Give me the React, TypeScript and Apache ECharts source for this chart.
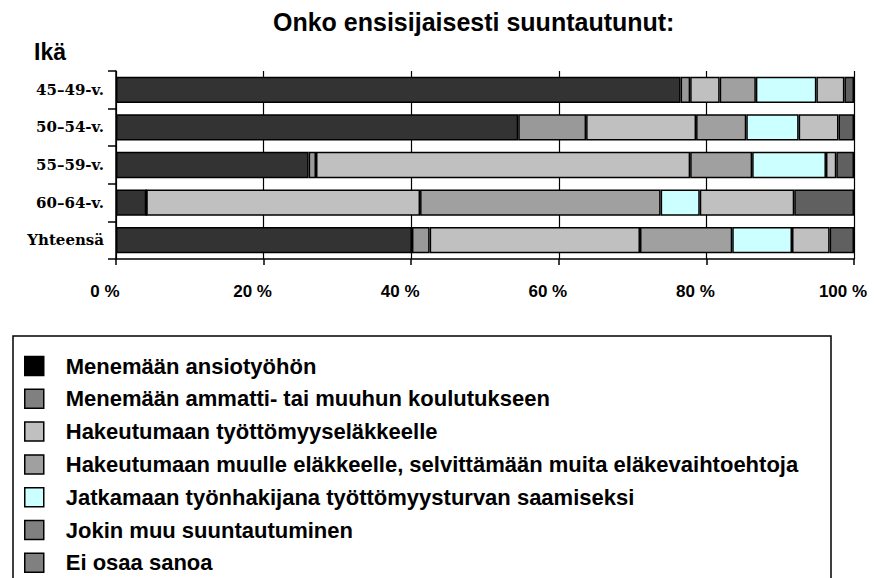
import React, { useEffect, useRef } from "react";
import * as echarts from "echarts";

const categories = ["45–49-v.", "50–54-v.", "55–59-v.", "60–64-v.", "Yhteensä"];
const seriesNames = [
  "Menemään ansiotyöhön",
  "Menemään ammatti- tai muuhun koulutukseen",
  "Hakeutumaan työttömyyseläkkeelle",
  "Hakeutumaan muulle eläkkeelle, selvittämään muita eläkevaihtoehtoja",
  "Jatkamaan työnhakijana työttömyysturvan saamiseksi",
  "Jokin muu suuntautuminen",
  "Ei osaa sanoa",
];
const ansiotyo = [76.5, 54.5, 26.1, 4.1, 40.1];
const koulutus = [1.3, 9.2, 1.0, 0, 2.4];
const tyottomyyselake = [4.0, 14.9, 50.7, 37.1, 28.5];
const muuElake = [4.9, 6.8, 8.4, 32.6, 12.5];
const jatkamaan = [8.2, 7.1, 10.0, 5.3, 8.1];
const jokinMuu = [3.8, 5.4, 1.4, 12.8, 5.1];
const eiOsaa = [1.3, 2.1, 2.4, 8.1, 3.3];
const seriesValues = [ansiotyo, koulutus, tyottomyyselake, muuElake, jatkamaan, jokinMuu, eiOsaa];
const barColors = ["#333333", "#999999", "#c0c0c0", "#a0a0a0", "#ccffff", "#c0c0c0", "#606060"];
const legendColors = ["#000000", "#808080", "#c0c0c0", "#a0a0a0", "#ccffff", "#808080", "#808080"];

export default function App() {
  const ref = useRef<HTMLDivElement>(null);
  useEffect(() => {
    const chart = echarts.init(ref.current!, null, { renderer: "svg" });
    const font = "'Liberation Sans', Arial, sans-serif";
    chart.setOption({
      animation: false,
      backgroundColor: "#ffffff",
      textStyle: { fontFamily: font },
      title: [
        {
          text: "Onko ensisijaisesti suuntautunut:",
          left: 273,
          top: 9,
          padding: 0,
          textStyle: { fontFamily: font, fontWeight: "bold", fontSize: 25, color: "#000" },
        },
        {
          text: "Ikä",
          left: 34,
          top: 40,
          padding: 0,
          textStyle: { fontFamily: font, fontWeight: "bold", fontSize: 23, color: "#000" },
        },
      ],
      graphic: [
        {
          type: "rect",
          shape: { x: 13, y: 336, width: 818, height: 300 },
          style: { fill: "#fff", stroke: "#000", lineWidth: 1.5 },
          z: -10,
        },
      ],
      legend: {
        orient: "vertical",
        left: 24,
        top: 354,
        padding: 0,
        itemWidth: 19,
        itemHeight: 19,
        itemGap: 8.8,
        icon: "rect",
        selectedMode: false,
        itemStyle: { borderColor: "#000", borderWidth: 1.5 },
        textStyle: {
          fontFamily: font,
          fontWeight: "bold",
          fontSize: 22,
          color: "#000",
          padding: [0, 0, 0, 17],
          lineHeight: 24,
        },
        data: seriesNames.map((n, i) => ({ name: n, itemStyle: { color: legendColors[i] } })),
      },
      grid: { left: 116, width: 738, top: 71, height: 188, containLabel: false },
      xAxis: {
        type: "value",
        min: 0,
        max: 100,
        interval: 20,
        axisLine: { show: true, lineStyle: { color: "#000", width: 1.5 } },
        axisTick: { show: true, length: 6, lineStyle: { color: "#000", width: 1.5 } },
        splitLine: { show: true, lineStyle: { color: "#000", width: 1.2 } },
        axisLabel: {
          formatter: "{value} %",
          fontFamily: font,
          fontWeight: "bold",
          fontSize: 17,
          color: "#000",
          margin: 24,
          padding: [0, 22, 0, 0],
        },
      },
      yAxis: {
        type: "category",
        inverse: true,
        data: categories,
        axisLine: { show: true, lineStyle: { color: "#000", width: 1.5 } },
        axisTick: { show: true, length: 8, lineStyle: { color: "#000", width: 1.5 } },
        axisLabel: {
          fontFamily: "'DejaVu Serif', 'Liberation Serif', serif",
          fontWeight: "bold",
          fontSize: 15,
          color: "#000",
          margin: 12,
        },
      },
      series: seriesNames.map((n, i) => ({
        name: n,
        type: "bar",
        stack: "total",
        barWidth: "70%",
        data: seriesValues[i],
        itemStyle: { color: barColors[i], borderColor: "#000", borderWidth: 1.5 },
      })),
    });
    return () => chart.dispose();
  }, []);
  return (
    <div style={{ position: "absolute", left: 0, top: 0, width: 887, height: 578, overflow: "hidden" }}>
      <div ref={ref} style={{ width: 887, height: 640 }} />
    </div>
  );
}
